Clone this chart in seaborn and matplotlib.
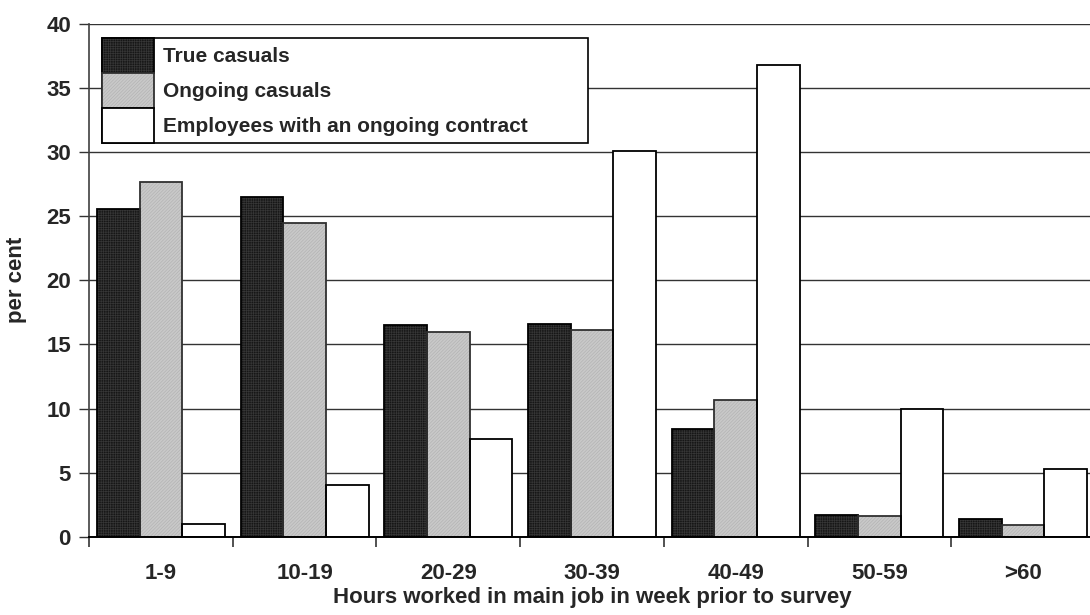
import numpy as np
import pandas as pd
import matplotlib
matplotlib.use("Agg")
import matplotlib.pyplot as plt
import seaborn as sns
from matplotlib.patches import Patch
from matplotlib.legend_handler import HandlerTuple
from matplotlib.ticker import FixedLocator, MultipleLocator

# Hours-worked bands and per-cent shares for each employment type
categories = ["1-9", "10-19", "20-29", "30-39", "40-49", "50-59", ">60"]
series_names = ["True casuals", "Ongoing casuals", "Employees with an ongoing contract"]
true_casuals = [25.6, 26.5, 16.5, 16.6, 8.4, 1.7, 1.4]
ongoing_casuals = [27.7, 24.5, 16.0, 16.1, 10.7, 1.6, 0.9]
ongoing_contract = [1.0, 4.0, 7.6, 30.1, 36.8, 10.0, 5.3]

df = pd.DataFrame({
    "hours": categories * 3,
    "group": sum([[n] * len(categories) for n in series_names], []),
    "value": true_casuals + ongoing_casuals + ongoing_contract,
})

sns.set_style("white")
plt.rcParams["font.family"] = ["Liberation Sans", "DejaVu Sans"]
plt.rcParams["font.weight"] = "bold"
plt.rcParams["hatch.linewidth"] = 0.5

fills = ["#161616", "#c9c9c9", "#ffffff"]
edges = ["#000000", "#303030", "#000000"]
hatch_cols = ["#363636", "#b3b3b3", "#ffffff"]
hatches = ["+++++++", "//////////", None]

fig = plt.figure(figsize=(10.9, 6.15), dpi=100)
ax = fig.add_axes([89 / 1090, 78.3 / 615, 1006 / 1090, 512.7 / 615])

bar_kw = dict(data=df, x="hours", y="value", hue="group", order=categories,
              hue_order=series_names, width=0.89, saturation=1,
              errorbar=None, legend=False, ax=ax)

# textured fills (the hatch takes the patch edge colour)
sns.barplot(palette=fills, zorder=3, **bar_kw)
n_fill = len(ax.containers)
for i, cont in enumerate(ax.containers[:n_fill]):
    for bar in cont:
        bar.set_edgecolor(hatch_cols[i])
        bar.set_linewidth(0)
        if hatches[i]:
            bar.set_hatch(hatches[i])

# crisp outlines on top
sns.barplot(palette=edges, fill=False, zorder=4, **bar_kw)
for i, cont in enumerate(ax.containers[n_fill:]):
    for bar in cont:
        bar.set_facecolor("none")
        bar.set_edgecolor(edges[i])
        bar.set_linewidth(1.3)

ax.set_xlim(-0.5, len(categories) - 0.5)
ax.set_ylim(0, 40)
ax.yaxis.set_major_locator(MultipleLocator(5))
ax.grid(axis="y", color="#333333", linewidth=1.0, zorder=0)
ax.set_axisbelow(True)

for s in ["top", "right"]:
    ax.spines[s].set_visible(False)
ax.spines["left"].set_color("#404040")
ax.spines["left"].set_linewidth(1.2)
ax.spines["bottom"].set_color("#000000")
ax.spines["bottom"].set_linewidth(1.4)
ax.spines["bottom"].set_zorder(5)

# category labels centred, tick marks on the band boundaries
ax.xaxis.set_minor_locator(FixedLocator(np.arange(-0.5, len(categories), 1.0)))
ax.tick_params(axis="x", which="major", length=0, pad=19, labelsize=16)
ax.tick_params(axis="x", which="minor", length=7, width=1.2, color="#333333",
               direction="out", bottom=True)
ax.tick_params(axis="y", which="major", length=7, width=1.0, color="#333333",
               direction="out", left=True, pad=6, labelsize=16)
for lab in ax.get_xticklabels() + ax.get_yticklabels():
    lab.set_fontweight("bold")

ax.set_xlabel("Hours worked in main job in week prior to survey",
              fontsize=16, fontweight="bold", labelpad=2)
ax.set_ylabel("per cent", fontsize=16, fontweight="bold", labelpad=14)

handles = [(Patch(facecolor=fills[i], edgecolor=hatch_cols[i], linewidth=0,
                  hatch=hatches[i]),
            Patch(facecolor="none", edgecolor=edges[i], linewidth=1.3))
           for i in range(3)]
leg = ax.legend(handles, series_names, loc="upper left",
                bbox_to_anchor=(0.0126, 0.7685, 0.4834, 0.2042),
                mode="expand", borderaxespad=0, borderpad=0.0,
                handlelength=2.5, handleheight=2.2, handletextpad=0.42,
                labelspacing=0.0, frameon=True, fancybox=False,
                handler_map={tuple: HandlerTuple(ndivide=1, pad=0)},
                prop={"size": 15, "weight": "bold"})
leg.get_frame().set_edgecolor("#000000")
leg.get_frame().set_linewidth(1.2)
leg.get_frame().set_alpha(1)
leg.set_zorder(6)

fig.savefig("out.png", dpi=100)
